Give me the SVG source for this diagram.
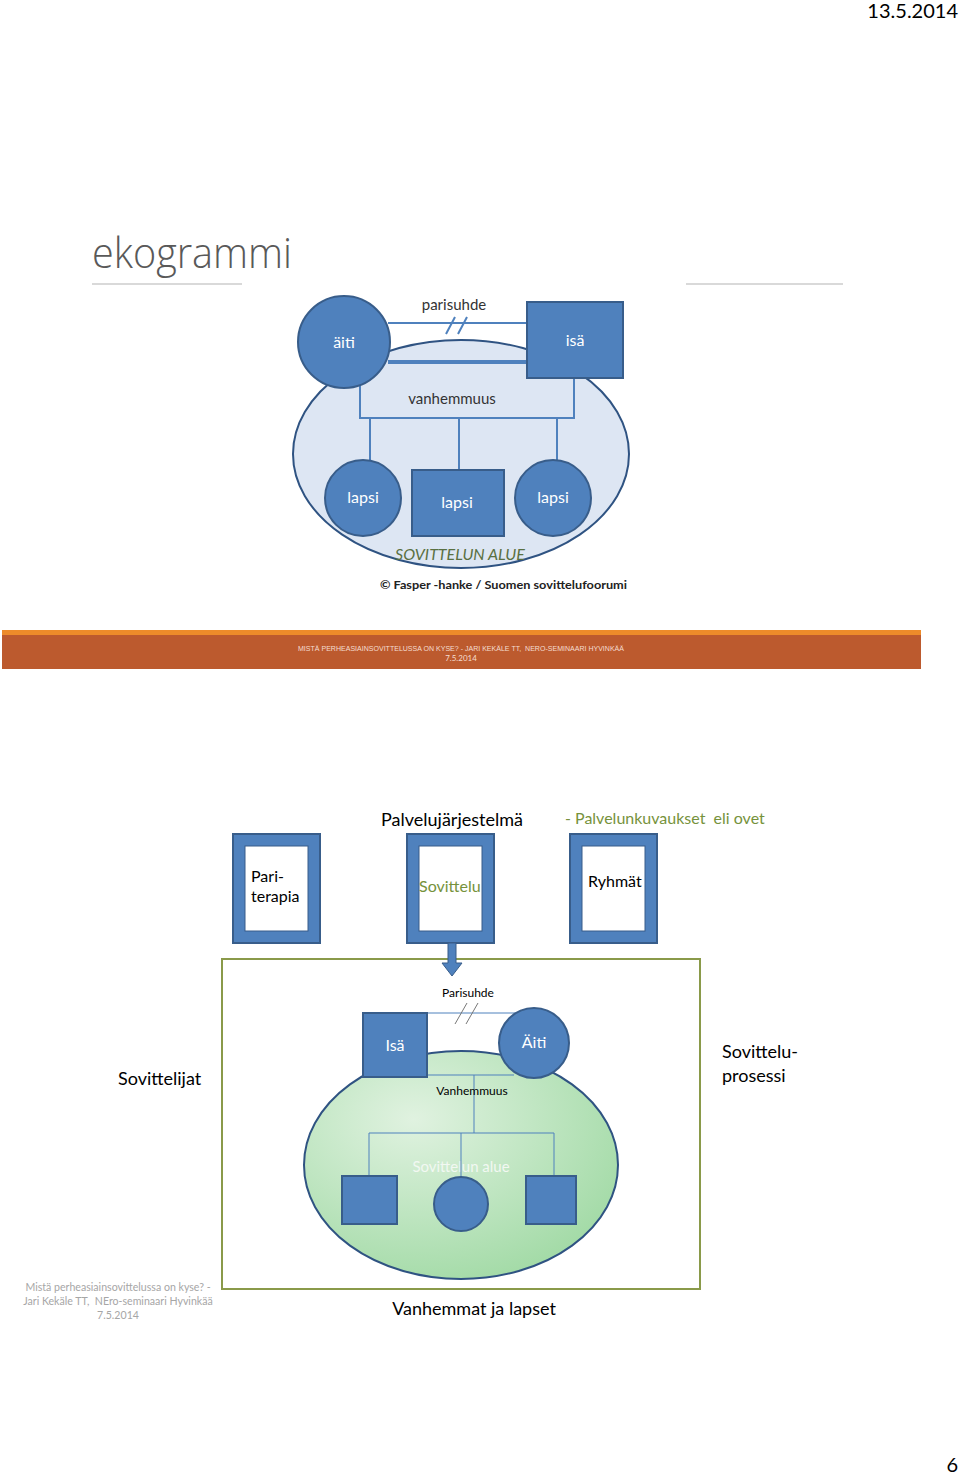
<svg xmlns="http://www.w3.org/2000/svg" width="960" height="1474" viewBox="0 0 960 1474">
<style>
text{font-family:Lato,"Liberation Sans",sans-serif}
.node{fill:#4f81bd;stroke:#385d8a;stroke-width:2}
.lbl{fill:#fff;font-size:16px;text-anchor:middle}
.ln{stroke:#4f81bd;stroke-width:2;fill:none}
.ln2{stroke:#4f81bd;stroke-width:1;fill:none}
.blk{fill:#000;font-size:18px}
.grn{fill:#76923c}
.foot{fill:#a6a6a6;font-size:10.6px;text-anchor:middle}
</style>
<defs>
<radialGradient id="gg" cx="0.35" cy="0.3" r="0.8">
<stop offset="0" stop-color="#e0f2e0"/>
<stop offset="1" stop-color="#9fd9a3"/>
</radialGradient>
</defs>
<rect width="960" height="1474" fill="#fff"/>
<text x="958" y="18" text-anchor="end" font-size="20" fill="#000">13.5.2014</text>
<text x="92" y="268" font-size="43" fill="#595959" font-weight="300" textLength="200" lengthAdjust="spacingAndGlyphs" style="font-family:'Open Sans',Lato,sans-serif">ekogrammi</text>
<line x1="92" y1="284" x2="242" y2="284" stroke="#d9d9d9" stroke-width="2"/>
<line x1="686" y1="284" x2="843" y2="284" stroke="#d9d9d9" stroke-width="2"/>

<g id="ekogrammi-alue">
<ellipse cx="461" cy="454" rx="168" ry="114" fill="#dde6f3" stroke="#2f5382" stroke-width="2"/>
<text x="460" y="560" text-anchor="middle" font-size="16" font-style="italic" fill="#5a7042">SOVITTELUN ALUE</text>
</g>
<g id="top-connectors">
<line class="ln" x1="388" y1="323" x2="527" y2="323"/>
<line x1="446" y1="334" x2="455" y2="317" stroke="#4f81bd" stroke-width="2"/>
<line x1="458" y1="334" x2="467" y2="317" stroke="#4f81bd" stroke-width="2"/>
<line x1="388" y1="362" x2="527" y2="362" stroke="#4f81bd" stroke-width="4"/>
<polyline class="ln" points="360,383 360,418 574,418 574,379"/>
<line class="ln" x1="370" y1="418" x2="370" y2="460"/>
<line class="ln" x1="459" y1="418" x2="459" y2="470"/>
<line class="ln" x1="557" y1="418" x2="557" y2="460"/>
</g>
<text x="454" y="310" text-anchor="middle" font-size="15" fill="#333">parisuhde</text>
<text x="452" y="404" text-anchor="middle" font-size="15" fill="#333">vanhemmuus</text>
<g id="aiti"><circle class="node" cx="344" cy="342" r="46"/><text class="lbl" x="344" y="348">äiti</text></g>
<g id="isa"><rect class="node" x="527" y="302" width="96" height="76"/><text class="lbl" x="575" y="346">isä</text></g>
<g id="lapsi1"><circle class="node" cx="363" cy="498" r="38"/><text class="lbl" x="363" y="503">lapsi</text></g>
<g id="lapsi2"><rect class="node" x="412" y="470" width="92" height="66"/><text class="lbl" x="457" y="508">lapsi</text></g>
<g id="lapsi3"><circle class="node" cx="553" cy="498" r="38"/><text class="lbl" x="553" y="503">lapsi</text></g>
<text x="380" y="589" font-size="12" font-weight="bold" fill="#222" textLength="247" lengthAdjust="spacingAndGlyphs">© Fasper -hanke / Suomen sovittelufoorumi</text>

<g id="footer-band">
<rect x="2" y="630" width="919" height="5" fill="#ed8b2a"/>
<rect x="2" y="635" width="919" height="34" fill="#bc5a2e"/>
<text x="461" y="651" text-anchor="middle" font-size="8" fill="#f5ddd0" textLength="326" lengthAdjust="spacingAndGlyphs" style="font-family:'Liberation Sans',sans-serif">MISTÄ PERHEASIAINSOVITTELUSSA ON KYSE? - JARI KEKÄLE TT,&#160; NERO-SEMINAARI HYVINKÄÄ</text>
<text x="461" y="661" text-anchor="middle" font-size="8" fill="#f5ddd0">7.5.2014</text>
</g>

<text class="blk" x="452" y="826" text-anchor="middle">Palvelujärjestelmä</text>
<text class="grn" x="565" y="824" font-size="16">- Palvelunkuvaukset&#160; eli ovet</text>

<g id="ovi-pariterapia">
<rect class="node" x="233" y="834" width="87" height="109"/>
<rect x="245" y="846" width="63" height="85" fill="#fff" stroke="#385d8a" stroke-width="1"/>
<text x="251" y="882" font-size="16" fill="#000">Pari-</text>
<text x="251" y="902" font-size="16" fill="#000">terapia</text>
</g>
<g id="ovi-sovittelu">
<rect class="node" x="407" y="834" width="87" height="109"/>
<rect x="419" y="846" width="63" height="85" fill="#fff" stroke="#385d8a" stroke-width="1"/>
<text class="grn" x="419" y="892" font-size="16">Sovittelu</text>
</g>
<g id="ovi-ryhmat">
<rect class="node" x="570" y="834" width="87" height="109"/>
<rect x="582" y="846" width="63" height="85" fill="#fff" stroke="#385d8a" stroke-width="1"/>
<text x="588" y="887" font-size="16" fill="#000">Ryhmät</text>
</g>

<g id="prosessi-kehys">
<rect x="222" y="959" width="478" height="330" fill="none" stroke="#8a9a4a" stroke-width="2"/>
</g>
<g id="nuoli">
<path d="M448,943 H456 V963 H462 L452,976 L442,963 H448 Z" fill="#4f81bd" stroke="#385d8a" stroke-width="1"/>
</g>

<g id="alue2">
<ellipse cx="461" cy="1165" rx="157" ry="114" fill="url(#gg)" stroke="#2f5382" stroke-width="2"/>
<text x="461" y="1172" text-anchor="middle" font-size="15" fill="#f2f8f2">Sovittelun alue</text>
</g>
<g id="bottom-connectors">
<line class="ln2" x1="427" y1="1013" x2="520" y2="1013"/>
<line x1="455" y1="1024" x2="467" y2="1003" stroke="#777" stroke-width="1"/>
<line x1="466" y1="1024" x2="478" y2="1003" stroke="#777" stroke-width="1"/>
<line class="ln2" x1="427" y1="1075" x2="514" y2="1075"/>
<line class="ln2" x1="474" y1="1075" x2="474" y2="1133"/>
<polyline class="ln2" points="369,1176 369,1133 554,1133 554,1176"/>
<line class="ln2" x1="461" y1="1133" x2="461" y2="1177"/>
</g>
<text x="468" y="997" text-anchor="middle" font-size="12" fill="#000">Parisuhde</text>
<text x="472" y="1095" text-anchor="middle" font-size="12" fill="#000">Vanhemmuus</text>
<g id="isa2"><rect class="node" x="363" y="1013" width="64" height="64"/><text class="lbl" x="395" y="1051">Isä</text></g>
<g id="aiti2"><circle class="node" cx="534" cy="1043" r="35"/><text class="lbl" x="534" y="1048">Äiti</text></g>
<g id="lapsi-a"><rect class="node" x="342" y="1176" width="55" height="48"/></g>
<g id="lapsi-b"><circle class="node" cx="461" cy="1204" r="27"/></g>
<g id="lapsi-c"><rect class="node" x="526" y="1176" width="50" height="48"/></g>

<text class="blk" x="118" y="1085">Sovittelijat</text>
<text class="blk" x="722" y="1058">Sovittelu-</text>
<text class="blk" x="722" y="1082">prosessi</text>
<text class="blk" x="474" y="1315" text-anchor="middle">Vanhemmat ja lapset</text>

<text class="foot" x="118" y="1291">Mistä perheasiainsovittelussa on kyse? -</text>
<text class="foot" x="118" y="1305">Jari Kekäle TT,&#160; NEro-seminaari Hyvinkää</text>
<text class="foot" x="118" y="1319">7.5.2014</text>
<text x="958" y="1472" text-anchor="end" font-size="20" fill="#000">6</text>
</svg>
